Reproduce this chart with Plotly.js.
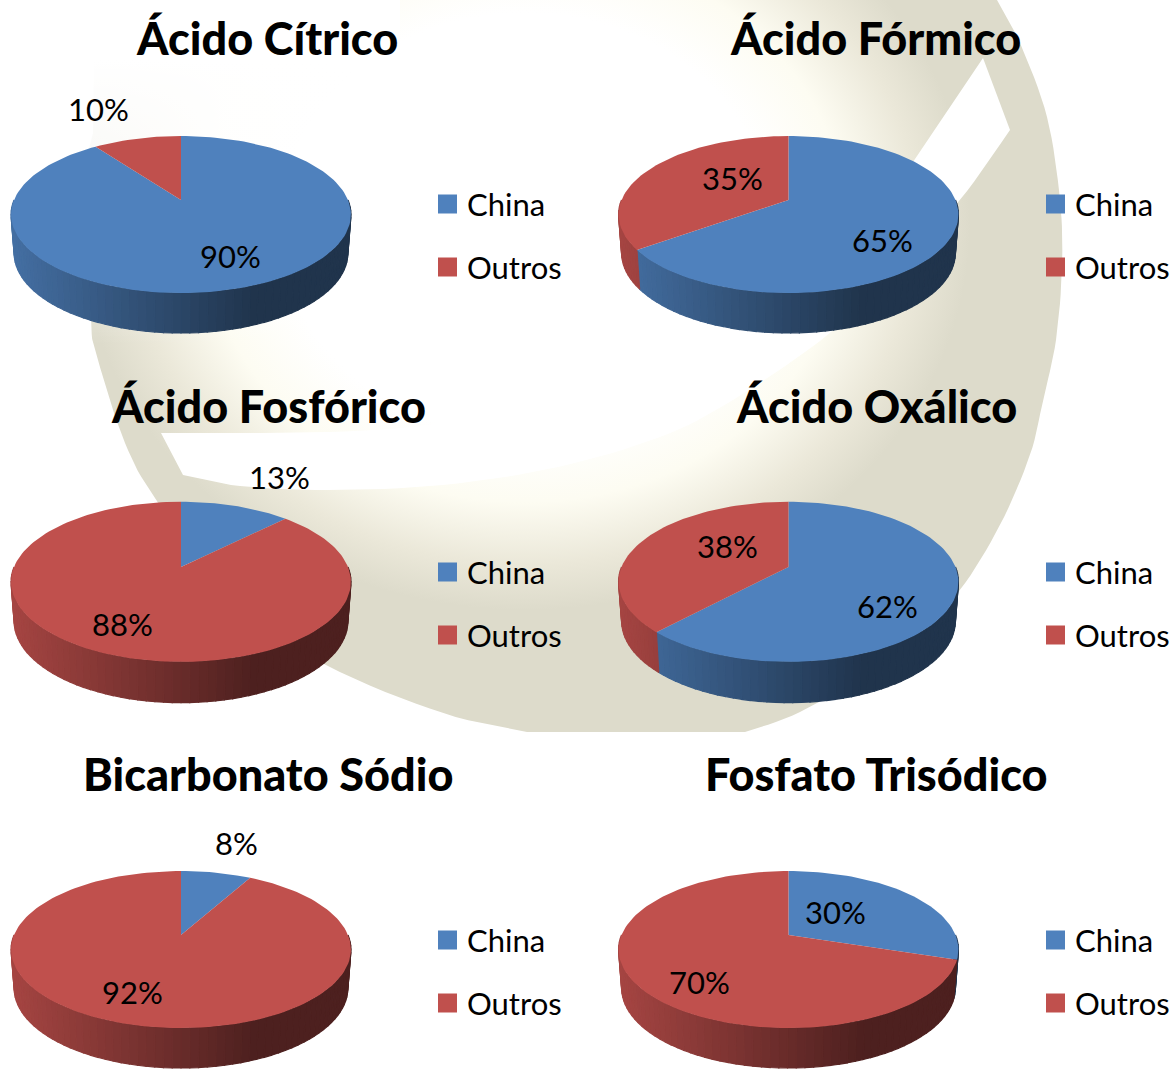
<!DOCTYPE html>
<html><head><meta charset="utf-8">
<script src="https://cdn.plot.ly/plotly-3.0.1.min.js"></script>
<style>html,body{margin:0;padding:0;background:#fff;overflow:hidden}</style>
</head><body><div id="chart" style="width:1173px;height:1069px"></div>
<script>
// ---- data ----
const chartTitles = ['Ácido Cítrico','Ácido Fórmico','Ácido Fosfórico','Ácido Oxálico','Bicarbonato Sódio','Fosfato Trisódico'];
const seriesNames = ['China','Outros'];
const chinaShare  = [90,65,12.5,62,8,30];
const outrosShare = [10,35,87.5,38,92,70];
const seriesColors = ['#4F81BD','#C0504D'];

// ---- layout (pixels of the page) ----
const pieCx = [181,788.5,181,788.5,181,788.5];
const pieCy = [200,200,567,567,935,935];
const pieScaleY = [1,1,1.02,1.02,1,1];
const titleAt = [[267,38],[875,38],[268,406],[876,406],[268,774],[876,774]];
const chinaLabelAt  = [[230,256],[882,240],[279,477],[887,606],[236,843],[835,912]];
const outrosLabelAt = [[98,109],[732,178],[122,624],[727,546],[132,992],[699,982]];
const legendX = [447.5,1055.5,447.5,1055.5,447.5,1055.5];
const legendY = [205,205,573,573,941,941];
const legendStep = 63;

const K=0.185, A=167, B=75.8, DEPTH=40;
const FONT='Lato, Carlito, Calibri, sans-serif';
const rim=(cx,cy,deg,sy)=>{const t=deg*Math.PI/180,s=Math.sin(t),c=Math.cos(t),d=1+K*c;return [cx+s*A/d,cy-sy*c*B/d];};
const base=(cx,cy,deg,sy)=>{const t=deg*Math.PI/180,c=Math.cos(t),p=rim(cx,cy,deg,sy);return [cx+(p[0]-cx)*0.982,p[1]+sy*(DEPTH-3*(1+c)/2*1.3)];};

const traces=[];
const poly=(pts,extra)=>Object.assign({type:'scatter',mode:'lines',x:pts.map(p=>p[0]),y:pts.map(p=>p[1]),fill:'toself',hoverinfo:'skip',showlegend:false,line:{width:0}},extra);
// smooth an open run of outline points (corners between runs stay sharp)
const smooth=run=>{const out=[];for(let i=0;i<run.length-1;i++){const p0=run[Math.max(i-1,0)],p1=run[i],p2=run[i+1],p3=run[Math.min(i+2,run.length-1)];
  for(let j=0;j<8;j++){const t=j/8,f=(a,b,c,d)=>0.5*(2*b+(c-a)*t+(2*a-5*b+4*c-d)*t*t+(3*b-a-3*c+d)*t*t*t);out.push([f(p0[0],p1[0],p2[0],p3[0]),f(p0[1],p1[1],p2[1],p3[1])]);}}
  out.push(run[run.length-1]);return out;};

// ---- decorative swirl behind the charts ----
const outerRight=[[997,0],[1020,43],[1047,117],[1060,200],[1062,267],[1056,340],[1043,400],[1030,455],[1000,525],[960,590],[915,635],[870,670],[800,712],[745,732]];
const outerLeft=[[527,732],[443,713],[326,665],[230,600],[156,500],[125,443],[98,360],[91,320],[92,200],[95,0]];
const holeLower=[[183,475],[240,486],[328,490],[443,485],[558,467],[660,437],[733,400],[830,333],[900,265],[960,200],[1010,130]];
const holeUpper=[[983,58],[950,106.5],[917,155],[884,203],[800,275],[660,350],[560,395],[443,423],[328,432],[161,433]];
traces.push(poly(smooth(outerRight).concat(smooth(outerLeft)),{fillcolor:'#DDDBCB'}));
const glow=[];for(let i=0;i<=96;i++){const t=i/96*2*Math.PI;glow.push([525+445*Math.cos(t),225+385*Math.sin(t)]);}
traces.push(poly(glow,{fillgradient:{type:'radial',colorscale:[[0,'#FFFFFF'],[0.55,'#FFFFFF'],[0.72,'#FDFCF2'],[0.88,'#EBE8D9'],[1,'#DDDBCB']]}}));
// fade of the swirl's tail towards the top-left corner
traces.push(poly([[80,0],[400,0],[400,345],[80,345],[80,0]],{fillgradient:{type:'vertical',start:60,stop:345,colorscale:[[0,'rgba(255,255,255,1)'],[0.55,'rgba(255,255,255,0.75)'],[1,'rgba(255,255,255,0)']]}}));
traces.push(poly(smooth(holeLower).concat(smooth(holeUpper)),{fillcolor:'#FFFFFF'}));

// ---- pies ----
const hex=(c,f)=>{const n=parseInt(c.slice(1),16);return `rgb(${Math.round((n>>16&255)*f)},${Math.round((n>>8&255)*f)},${Math.round((n&255)*f)})`;};
chartTitles.forEach((_,i)=>{
  const cx=pieCx[i],cy=pieCy[i],sy=pieScaleY[i];
  const vals=[chinaShare[i],outrosShare[i]];
  const edge=vals[0]/(vals[0]+vals[1])*360;
  const spans=[[0,edge,0],[edge,360,1]];
  // side wall
  spans.forEach(([a0,a1,s])=>{
    const from=Math.max(a0,90),to=Math.min(a1,270);
    if(to<=from)return;
    const n=Math.max(1,Math.ceil((to-from)/2.5));
    for(let j=0;j<n;j++){
      const u=from+(to-from)*j/n,v=from+(to-from)*(j+1)/n;
      const q=[rim(cx,cy,u,sy),rim(cx,cy,v,sy),base(cx,cy,v,sy),base(cx,cy,u,sy)];
      const xm=(q[0][0]+q[1][0])/2, tt=(xm-(cx-170))/340;
      const f=Math.max(0.4,0.86-0.46*tt/0.72);
      const col=hex(seriesColors[s],f);
      traces.push(poly(q.concat([q[0]]),{fillcolor:col,line:{width:1.2,color:col}}));
    }
  });
  // top surface
  spans.forEach(([a0,a1,s])=>{
    const pts=[[cx,cy]];const n=Math.ceil((a1-a0)/2);
    for(let j=0;j<=n;j++)pts.push(rim(cx,cy,a0+(a1-a0)*j/n,sy));
    pts.push([cx,cy]);
    traces.push(poly(pts,{fillcolor:seriesColors[s]}));
  });
  // legend keys
  seriesNames.forEach((nm,s)=>{
    traces.push({type:'scatter',mode:'markers',x:[legendX[i]],y:[legendY[i]+s*legendStep-1],marker:{symbol:'square',size:19,color:seriesColors[s],line:{width:0}},hoverinfo:'skip',showlegend:false});
  });
});

// ---- text ----
const ann=[];
const txt=(x,y,t,size,anchor,weight)=>ann.push({xref:'x',yref:'y',x,y,text:t,showarrow:false,xanchor:anchor||'center',yanchor:'middle',font:{family:FONT,size,color:'#000',weight:weight||400},borderpad:0,borderwidth:0});
chartTitles.forEach((t,i)=>{
  txt(titleAt[i][0],titleAt[i][1],t,45,'center',900);
  txt(chinaLabelAt[i][0],chinaLabelAt[i][1],Math.round(chinaShare[i])+'%',31);
  txt(outrosLabelAt[i][0],outrosLabelAt[i][1],Math.round(outrosShare[i])+'%',31);
  seriesNames.forEach((nm,s)=>txt(legendX[i]+19.5,legendY[i]-1+s*legendStep,nm,31,'left'));
});

Plotly.newPlot('chart',traces,{
  width:1173,height:1069,margin:{l:0,r:0,t:0,b:0},paper_bgcolor:'#fff',plot_bgcolor:'rgba(0,0,0,0)',
  showlegend:false,hovermode:false,
  xaxis:{range:[0,1173],visible:false,fixedrange:true},
  yaxis:{range:[1069,0],visible:false,fixedrange:true},
  annotations:ann
},{displayModeBar:false,staticPlot:true});
</script></body></html>
